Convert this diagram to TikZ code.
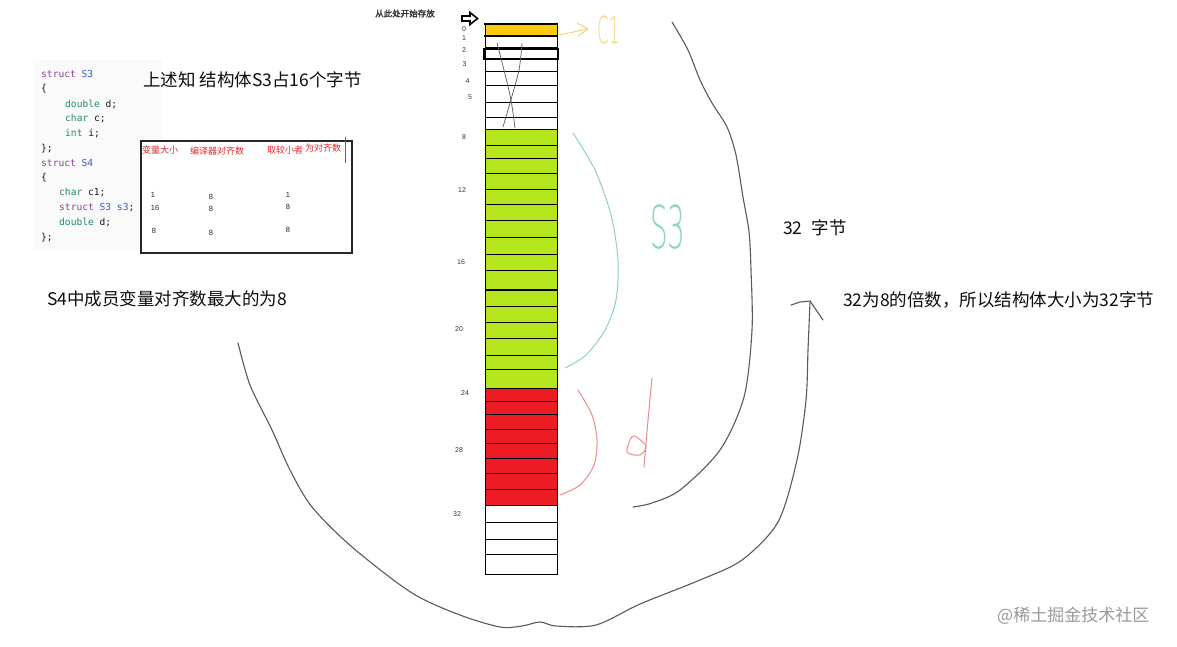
\documentclass[tikz,border=0pt]{standalone}
\usepackage{fontspec}
\usetikzlibrary{arrows.meta}
\setmainfont{Noto Sans CJK SC}
\newfontfamily\cjkbold[FakeBold=2]{Noto Sans CJK SC}
\newfontfamily\codefont{DejaVu Sans Mono}
\newfontfamily\numfont{Liberation Sans}
\newfontfamily\handfont{DejaVuSans-ExtraLight.ttf}
\definecolor{pgold}{HTML}{FFC90E}
\definecolor{plime}{HTML}{B5E61D}
\definecolor{pred}{HTML}{ED1C24}
\definecolor{hteal}{HTML}{8AD5BC}
\definecolor{hpink}{HTML}{F08A8A}
\definecolor{hyel}{HTML}{F5D47E}
\definecolor{kwpurple}{HTML}{8A3FA0}
\definecolor{kwblue}{HTML}{3558D6}
\definecolor{kwteal}{HTML}{23896A}
\definecolor{tred}{HTML}{E8262D}
\definecolor{sk}{HTML}{5A5A5A}
\begin{document}
\begin{tikzpicture}[x=1pt,y=-1pt,
  cell/.style={draw=black,line width=1pt},
  sketch/.style={draw=sk,line width=1.1pt,line cap=round,line join=round},
  lbl/.style={inner sep=0,font=\numfont\fontsize{7}{7}\selectfont,text=black!80},
  codeln/.style={anchor=west,inner sep=0,font=\codefont\fontsize{9.6}{10}\selectfont,text=black!90},
  big/.style={anchor=west,inner sep=0,font=\fontsize{17.5}{18}\selectfont,text=black!95},
  hdr/.style={inner sep=0,text=tred,font=\fontsize{9}{9}\selectfont},
  tnum/.style={inner sep=0,font=\numfont\fontsize{7.5}{8}\selectfont,text=black!85},
  hand/.style={inner sep=0,font=\handfont}]
\useasboundingbox (0,0) rectangle (1177,646);
\fill[white] (0,0) rectangle (1177,646);

% code block
\fill[black!2] (33,60) rectangle (162,250);
\node[codeln] (c1) at (41,74) {\color{kwpurple}struct \color{kwblue}S3};
\node[codeln] (c2) at (41,89) {\{};
\node[codeln] (c3) at (65,104) {\color{kwteal}double \color{black!90}d;};
\node[codeln] (c4) at (65,119) {\color{kwteal}char \color{black!90}c;};
\node[codeln] (c5) at (65,134) {\color{kwteal}int \color{black!90}i;};
\node[codeln] (c6) at (41,149) {\};};
\node[codeln] (c7) at (41,163) {\color{kwpurple}struct \color{kwblue}S4};
\node[codeln] (c8) at (41,178) {\{};
\node[codeln] (c9) at (59,193) {\color{kwteal}char \color{black!90}c1;};
\node[codeln] (c10) at (59,208) {\color{kwpurple}struct \color{kwblue}S3 s3\color{black!90};};
\node[codeln] (c11) at (59,222) {\color{kwteal}double \color{black!90}d;};
\node[codeln] (c12) at (41,238) {\};};

% headline texts
\node[big] (t1) at (143,80) {上述知\ 结构体S3占16个字节};
\node[big] (t2) at (47,299) {S4中成员变量对齐数最大的为8};
\node[big] (t3) at (783,228) {32\hspace{9pt}字节};
\node[big] (t4) at (843,300) {32为8的倍数，所以结构体大小为32字节};
\node[big,text=black!40,font=\fontsize{17}{18}\selectfont] (wm) at (997,616) {@稀土掘金技术社区};

% table
\fill[white] (140,140) rectangle (351,252);
\node[draw=black!85,line width=1.6pt,minimum width=211pt,minimum height=112pt,anchor=north west,inner sep=0] (tbl) at (140,140) {};
\node[hdr] (h1) at (160,150) {变量大小};
\node[hdr] (h2) at (217,151) {编译器对齐数};
\node[hdr] (h3) at (285,150) {取较小者};
\node[hdr] (h4) at (323,148) {为对齐数};
\coordinate (rv1) at (345,137);
\coordinate (rv2) at (345,163);
\draw[tred,line width=0.8pt] (rv1) -- (rv2);
\node[tnum] (n11) at (153,195) {1};
\node[tnum] (n12) at (211,197) {8};
\node[tnum] (n13) at (288,195) {1};
\node[tnum] (n21) at (155,208) {16};
\node[tnum] (n22) at (211,209) {8};
\node[tnum] (n23) at (288,207) {8};
\node[tnum] (n31) at (154,231) {8};
\node[tnum] (n32) at (211,233) {8};
\node[tnum] (n33) at (288,230) {8};

% start label and arrow
\node[inner sep=0,font=\cjkbold\fontsize{8.5}{9}\selectfont,text=black!80] (start) at (405,13.5) {从此处开始存放};
\draw[line width=1.6pt,line join=miter] (462,16) -- (470,16) -- (470,12.5) -- (477.5,18.5) -- (470,24.5) -- (470,21) -- (462,21) -- cycle;

% memory column
\fill[pgold] (485,24) rectangle (557,36);
\fill[plime] (485,129) rectangle (557,388);
\fill[pred] (485,388) rectangle (557,505);
\foreach \yy in {47,71,85,102,117,129,145,158,173,189,204,220,237,254,270,306,322,338,355,369,388,401,414,429,443,458,473,489,505,522,539,554}
  \draw[cell] (485,\yy) -- (557,\yy);
\draw[cell,line width=2pt] (485,290) -- (557,290);
\draw[line width=2pt] (484,24) -- (558,24);
\draw[line width=1.6pt] (484,36) -- (558,36);
\draw[line width=1.5pt] (484,49) rectangle (558,59);
\draw[cell] (485,24) rectangle (557,574);
% crossing strokes
\draw[line width=0.7pt,black!65] plot[smooth] coordinates {(497,43) (504,70) (511,100) (515,128)};
\draw[line width=0.7pt,black!65] plot[smooth] coordinates {(522,43) (519,70) (510,103) (503,127)};

% row labels
\node[lbl] (r0) at (464,29.5) {0};
\node[lbl] (r1) at (464,38) {1};
\node[lbl] (r2) at (464,50) {2};
\node[lbl] (r3) at (464.5,64) {3};
\node[lbl] (r4) at (467.5,81) {4};
\node[lbl] (r5) at (470,97) {5};
\node[lbl] (r8) at (464,137) {8};
\node[lbl] (r12) at (462,190) {12};
\node[lbl] (r16) at (461,262) {16};
\node[lbl] (r20) at (459,329) {20};
\node[lbl] (r24) at (465,393) {24};
\node[lbl] (r28) at (459,450) {28};
\node[lbl] (r32) at (457,514) {32};

% yellow note
\coordinate (ys) at (559,35);
\coordinate (ye) at (588,29);
\draw[hyel,line width=1pt,line cap=round] (ys) -- (ye);
\draw[hyel,line width=1pt,line cap=round,line join=round] (577,23) -- (ye) -- (578,36);
\node[hand,text=hyel,font=\handfont\fontsize{37}{37}\selectfont] (cone) at (609,30) {\scalebox{0.45}[1]{C1}};

% green brace and S3
\draw[hteal,line width=1pt,line cap=round] plot[smooth] coordinates {(573,133) (595,170) (611,215) (618,260) (616,300) (605,330) (586,355) (565,368)};
\node[hand,text=hteal,font=\handfont\fontsize{59}{59}\selectfont] (sthree) at (668,227) {\scalebox{0.47}[1]{S3}};

% red brace and d
\draw[hpink,line width=1pt,line cap=round] plot[smooth] coordinates {(578,390) (592,415) (597,440) (594,465) (580,485) (560,495)};
\draw[hpink,line width=1pt,line cap=round,line join=round] (652,378) -- (648,420) -- (644,467);
\draw[hpink,line width=1pt,line cap=round,line join=round] plot[smooth cycle] coordinates {(646,446) (633,436) (627,452) (640,455)};

% big sketch curves
\draw[sketch] plot[smooth] coordinates {(672,22) (688,50) (700,80) (712,103) (727,127) (736,155) (743,197) (749,232) (751,270) (752,330) (744,397) (720,450) (680,490) (652,503) (633,507)};
\draw[sketch] plot[smooth] coordinates {(238,343) (250,385) (272,430) (290,470) (312,507) (352,547) (412,593) (460,615) (500,627) (522,626) (540,622) (556,626) (596,625) (640,604) (700,580) (742,560) (778,522) (797,460) (806,400) (808,350) (810,302)};
\draw[sketch] (791,305) -- (800,302) -- (810,301) -- (823,320);
\end{tikzpicture}
\end{document}
